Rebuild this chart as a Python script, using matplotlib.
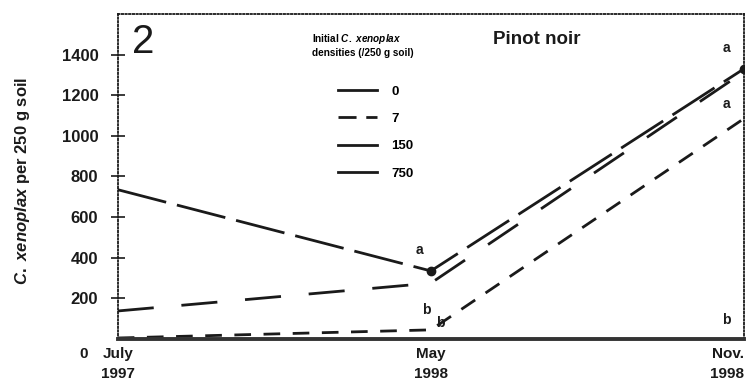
import matplotlib
matplotlib.use("Agg")
import matplotlib.pyplot as plt
from matplotlib.lines import Line2D
import matplotlib.transforms as mtransforms

# sampling dates (plotted as equally spaced, like the original)
dates = ["July\n1997", "May\n1998", "Nov.\n1998"]
x = [0, 1, 2]

# initial densities and counts per 250 g soil
densities = ["0", "7", "150", "750"]
dens_0 = [0, 0, 0]
dens_7 = [5, 45, 1085]
dens_150 = [138, 275, 1315]
dens_750 = [735, 335, 1330]

# significance letters
sig_x = [0.965, 0.985, 1.03, 1.945, 1.945, 1.945]
sig_y = [440, 145, 80, 1430, 1155, 95]
sig_txt = ["a", "b", "b", "a", "a", "b"]

yticks = [200, 400, 600, 800, 1000, 1200, 1400]

plt.rcParams['font.family'] = ['Liberation Sans', 'DejaVu Sans']
plt.rcParams['mathtext.fontset'] = 'custom'
plt.rcParams['mathtext.it'] = 'Liberation Sans:italic:bold'
plt.rcParams['mathtext.rm'] = 'Liberation Sans:bold'
plt.rcParams['lines.scale_dashes'] = False

ink = '#1a1a1a'
fig = plt.figure(figsize=(7.5, 3.87), dpi=100)
ax = fig.add_axes([0.157, 0.124, 0.835, 0.840])

ax.plot(x, dens_0, c=ink, lw=2, ls='-')
ax.plot(x, dens_7, c=ink, lw=2, ls=(0, (12, 9)))
ax.plot(x, dens_150, c=ink, lw=2, ls=(0, (26, 20)))
ax.plot(x, dens_750, c=ink, lw=2, ls=(0, (36, 8)),
        marker='o', markersize=6, markevery=[1, 2])

for sx, sy, st in zip(sig_x, sig_y, sig_txt):
    ax.text(sx, sy, st, fontsize=10, fontweight='bold', color=ink,
            ha='center', va='center')

ax.set_xlim(0, 2)
ax.set_ylim(0, 1600)
ax.set_xticks(x)
ax.set_xticklabels(dates, fontsize=11, fontweight='bold', linespacing=1.5)
ax.get_xticklabels()[-1].set_ha('right')
ax.set_yticks(yticks)
ax.set_yticklabels([str(v) for v in yticks], fontsize=12, fontweight='bold')
ax.tick_params(axis='y', direction='inout', length=10, width=1.2, pad=9, colors=ink)
ax.tick_params(axis='x', length=0, pad=6, colors=ink)

# "0" at the origin sits on the date line
trans = mtransforms.blended_transform_factory(ax.transAxes, ax.transData)
ax.text(-0.048, -40, "0", transform=trans, ha='right', va='top',
        fontsize=11, fontweight='bold', color=ink)

for side in ['top', 'right', 'left']:
    ax.spines[side].set_linestyle(':')
    ax.spines[side].set_linewidth(1.3)
    ax.spines[side].set_color(ink)
ax.spines['bottom'].set_linewidth(2.8)
ax.spines['bottom'].set_color('#333333')

ax.set_ylabel(r"$\it{C.\ xenoplax}$ per 250 g soil", fontsize=12,
              fontweight='bold', color=ink)
ax.yaxis.set_label_coords(-0.137, 0.486)

ax.text(0.04, 0.915, "2", transform=ax.transAxes, fontsize=29,
        ha='center', va='center', color=ink)
ax.text(0.669, 0.92, "Pinot noir", transform=ax.transAxes, fontsize=13.5,
        fontweight='bold', ha='center', va='center', color=ink)

handles = [Line2D([], [], c=ink, lw=2, ls='-'),
           Line2D([], [], c=ink, lw=2, ls=(0, (13, 7, 10, 7))),
           Line2D([], [], c=ink, lw=2, ls='-'),
           Line2D([], [], c=ink, lw=2, ls='-')]
leg = ax.legend(handles, densities, loc='upper left', bbox_to_anchor=(0.30, 0.965),
                frameon=False, prop={'weight': 'bold', 'size': 9.5},
                title="Initial $\\it{C.\\ xenoplax}$\ndensities (/250 g soil)",
                title_fontproperties={'weight': 'bold', 'size': 7.2},
                handlelength=3.0, handletextpad=1.1, labelspacing=1.15,
                borderpad=0, alignment='right')
leg._legend_box.sep = 20

plt.savefig("out.png", dpi=100)
